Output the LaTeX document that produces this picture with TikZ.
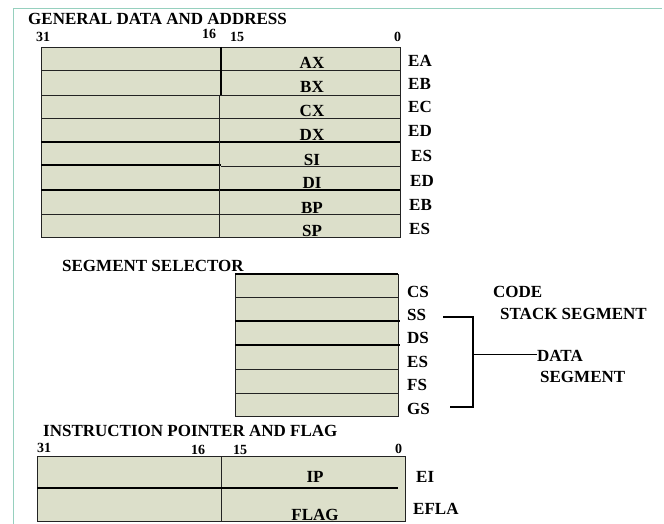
\documentclass[tikz,border=0pt]{standalone}
\usepackage{fontspec}
\setmainfont{Liberation Serif}
\definecolor{cellfill}{RGB}{220,223,202}
\definecolor{framecol}{RGB}{150,208,190}
\definecolor{ink}{RGB}{35,35,35}
\begin{document}
\begin{tikzpicture}[x=1pt,y=-1pt,
  lbl/.style={inner sep=0pt, font=\fontsize{17}{19}\selectfont\bfseries, text=black},
  num/.style={inner sep=0pt, font=\fontsize{14}{16}\selectfont\bfseries, text=black},
  grid/.style={draw=ink, line width=0.9pt},
  heavy/.style={draw=black, line width=1.6pt},
  brk/.style={draw=black, line width=1.1pt}]
\useasboundingbox (0,0) rectangle (664,524);
\draw[framecol, line width=1pt] (13,524) -- (13,9) -- (662,9);

% ---- general data and address ----
\node[lbl, anchor=base west] (gtitle) at (28,25) {GENERAL DATA AND ADDRESS};
\node[num, anchor=base west] (g31) at (36,42) {31};
\node[num, anchor=base west] (g16) at (202,39) {16};
\node[num, anchor=base west] (g15) at (230,42) {15};
\node[num, anchor=base west] (g0) at (394,42) {0};

\filldraw[fill=cellfill, grid] (41,47) rectangle (400,237);
\foreach \y in {70,95,118,214} \draw[grid] (41,\y) -- (400,\y);
\draw[heavy] (41,142) -- (400,142);
\draw[heavy] (41,165) -- (221,165);
\draw[grid] (221,166) -- (400,166);
\draw[heavy, line width=1.3pt] (41,190) -- (400,190);
\draw[heavy] (221,47) -- (221,95);
\draw[grid] (219,95) -- (219,237);

\node[lbl, anchor=base] (ax) at (312,69) {AX};
\node[lbl, anchor=base] (bx) at (312,93) {BX};
\node[lbl, anchor=base] (cx) at (312,117) {CX};
\node[lbl, anchor=base] (dx) at (312,141) {DX};
\node[lbl, anchor=base] (si) at (312,165) {SI};
\node[lbl, anchor=base] (di) at (312,189) {DI};
\node[lbl, anchor=base] (bp) at (312,213) {BP};
\node[lbl, anchor=base] (sp) at (312,236) {SP};

\node[lbl, anchor=base west] (ea) at (408,67) {EA};
\node[lbl, anchor=base west] (eb) at (408,90) {EB};
\node[lbl, anchor=base west] (ec) at (408,113) {EC};
\node[lbl, anchor=base west] (ed) at (408,137) {ED};
\node[lbl, anchor=base west] (es) at (411,161) {ES};
\node[lbl, anchor=base west] (edi) at (410,186) {ED};
\node[lbl, anchor=base west] (ebp) at (409,210) {EB};
\node[lbl, anchor=base west] (esp) at (409,234) {ES};

% ---- segment selector ----
\node[lbl, anchor=base west] (stitle) at (62,271) {SEGMENT SELECTOR};
\filldraw[fill=cellfill, grid] (235,274) rectangle (398,416);
\draw[heavy] (235,274) -- (398,274);
\foreach \y in {297,369,393} \draw[grid] (235,\y) -- (398,\y);
\draw[heavy] (235,321) -- (400,321);
\draw[heavy] (235,345) -- (400,345);

\node[lbl, anchor=base west] (cs) at (407,297) {CS};
\node[lbl, anchor=base west] (ss) at (407,320) {SS};
\node[lbl, anchor=base west] (ds) at (407,343) {DS};
\node[lbl, anchor=base west] (ess) at (407,367) {ES};
\node[lbl, anchor=base west] (fs) at (407,390) {FS};
\node[lbl, anchor=base west] (gs) at (407,414) {GS};

\node[lbl, anchor=base west] (code) at (493,297) {CODE};
\node[lbl, anchor=base west] (stack) at (500,319) {STACK SEGMENT};
\node[lbl, anchor=base west] (data) at (537,361) {DATA};
\node[lbl, anchor=base west] (dseg) at (540,382) {SEGMENT};

\coordinate (bss) at (443,317);
\coordinate (bgs) at (450,407);
\coordinate (bmid) at (473,354);
\draw[brk] (bss) -- (473,317) -- (473,407) -- (bgs);
\draw[draw=black, line width=0.9pt] (bmid) -- (bmid -| data.west);

% ---- instruction pointer and flag ----
\node[lbl, anchor=base west] (ititle) at (43,436) {INSTRUCTION POINTER AND FLAG};
\node[num, anchor=base west] (i31) at (37,452) {31};
\node[num, anchor=base west] (i16) at (191,454) {16};
\node[num, anchor=base west] (i15) at (233,454) {15};
\node[num, anchor=base west] (i0) at (395,453) {0};

\filldraw[fill=cellfill, grid] (37,456) rectangle (405,521);
\draw[grid] (221,456) -- (221,521);
\draw[heavy] (37,488) -- (398,488);

\node[lbl, anchor=base] (ip) at (315,482) {IP};
\node[lbl, anchor=base] (flag) at (315,520) {FLAG};
\node[lbl, anchor=base west] (ei) at (416,482) {EI};
\node[lbl, anchor=base west] (efla) at (413,514) {EFLA};
\end{tikzpicture}
\end{document}
